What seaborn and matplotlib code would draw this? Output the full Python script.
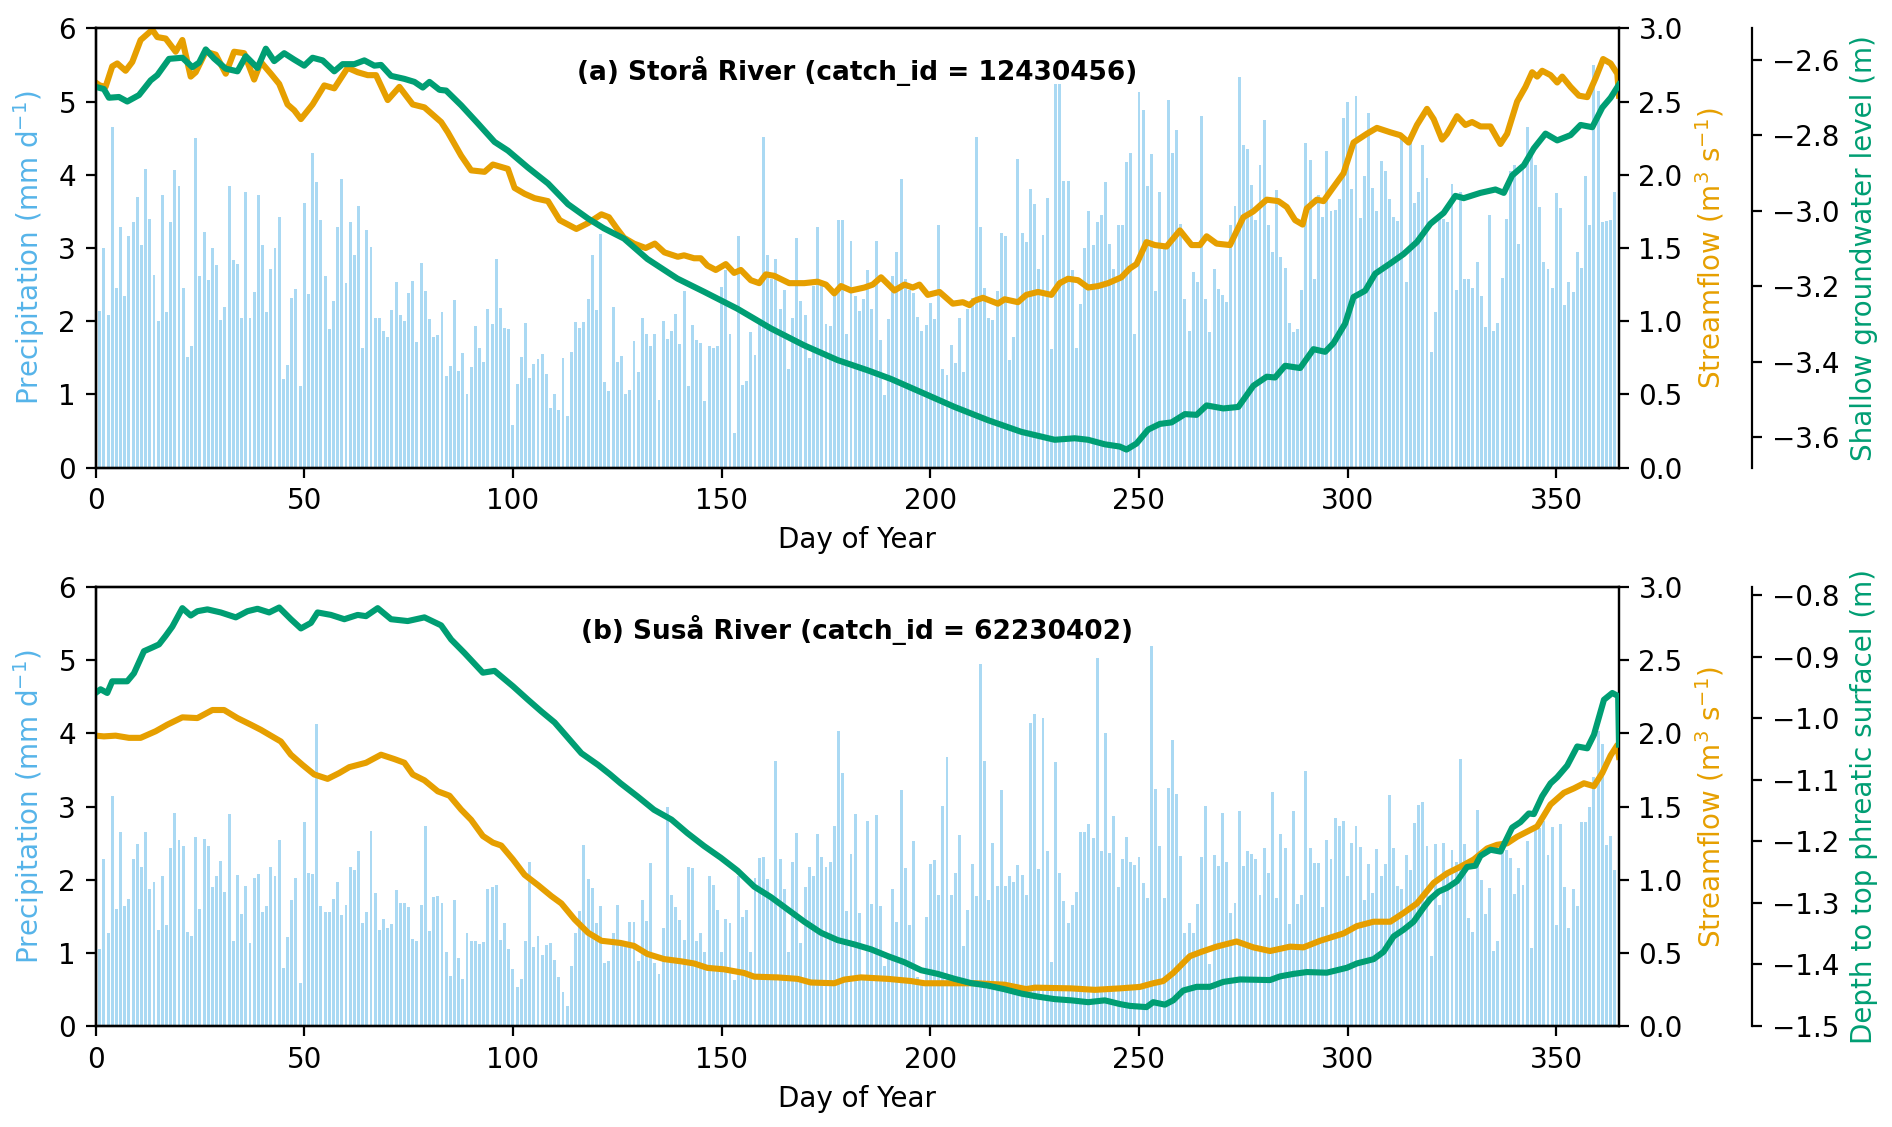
import numpy as np
import pandas as pd
import seaborn as sns
import matplotlib.pyplot as plt
from matplotlib.ticker import MultipleLocator

days = list(range(1, 366))

# daily precipitation, Storå River (mm/d)
stora_precip = [
    2.14, 3.0, 2.08, 4.65, 2.45, 3.28, 2.35, 3.17, 3.35, 3.69,
    3.04, 4.08, 3.39, 2.63, 2.01, 3.72, 2.12, 3.36, 4.07, 3.84,
    2.45, 1.51, 1.66, 4.5, 2.62, 3.22, 2.56, 3.0, 2.77, 2.02,
    2.19, 3.85, 2.84, 2.78, 2.05, 3.77, 2.05, 2.4, 3.72, 3.04,
    2.12, 2.71, 3.0, 3.42, 1.21, 1.4, 2.32, 2.44, 1.11, 3.61,
    2.37, 4.3, 3.9, 3.38, 2.62, 1.9, 2.28, 3.28, 3.94, 2.52,
    3.35, 2.91, 3.58, 1.63, 3.25, 3.02, 2.05, 2.05, 1.87, 1.78,
    2.16, 2.53, 2.09, 2.01, 2.39, 2.55, 1.71, 2.8, 2.41, 2.03,
    1.79, 1.81, 2.13, 1.25, 1.39, 2.29, 1.32, 1.56, 1.0, 1.37,
    1.93, 1.63, 1.44, 2.17, 1.96, 2.85, 2.18, 1.91, 1.89, 0.58,
    1.14, 1.51, 1.98, 1.22, 1.41, 1.49, 1.55, 1.28, 0.81, 1.0,
    0.79, 1.5, 0.7, 1.58, 1.99, 1.91, 1.99, 2.3, 2.9, 2.15,
    3.19, 1.17, 1.05,
    2.2, 1.45, 1.52, 1.0, 1.06, 1.73, 1.3, 2.04, 1.82, 1.66,
    1.82, 0.92, 2.01, 1.76, 1.87, 2.1, 1.69, 2.41, 1.12, 1.95,
    1.74, 1.7, 0.91, 1.66, 1.64, 1.66, 2.47, 2.7, 1.83, 0.48,
    3.17, 1.13, 1.18, 1.85, 1.54, 1.98, 4.51, 2.91, 2.58, 2.85,
    2.17, 2.43, 1.35, 2.05, 3.14, 2.27, 2.09, 1.5, 2.48, 3.28,
    2.5, 1.96, 1.93, 2.41, 3.38, 3.38, 1.83, 3.1, 2.35, 2.14,
    2.31, 2.7, 2.17, 3.1, 1.74, 0.99, 2.03, 2.62, 2.95, 3.94,
    2.58, 2.42, 2.38, 2.06, 1.87, 1.95, 2.25, 2.03, 3.31, 1.35,
    1.26, 1.68, 1.43, 2.05, 1.31, 2.17, 2.32, 4.51, 3.29, 2.45,
    2.05, 2.02, 2.41, 3.2, 3.16, 1.47, 1.78, 4.22, 3.2, 3.08,
    3.8, 3.6, 2.72, 3.18, 3.68, 1.62, 5.24, 5.24, 3.91, 3.91,
    2.7, 1.63, 2.23, 3.0, 3.5, 3.04, 3.35, 3.45, 3.9, 3.06,
    2.72, 3.32,
    3.31, 4.17, 4.3, 1.82, 5.13, 4.89, 3.85, 4.29, 2.41, 3.76,
    3.04, 5.02, 4.3, 4.61, 3.33, 2.31, 1.87, 2.67, 2.54, 4.8,
    2.31, 1.85, 2.72, 2.44, 2.36, 2.26, 3.31, 3.57, 5.33, 4.41,
    4.35, 3.86, 3.38, 4.13, 4.75, 3.32, 2.95, 3.79, 2.88, 2.73,
    1.97, 1.85, 1.9, 2.43, 4.43, 4.2, 2.58, 3.73, 3.42, 4.32,
    3.51, 3.52, 3.67, 4.78, 5.0, 3.8, 5.07, 3.41, 3.98, 4.85,
    3.82, 3.51, 4.19, 4.05, 3.67, 3.43, 3.37, 4.55, 2.54, 4.55,
    3.62, 3.77, 4.4, 3.95, 1.58, 2.13, 3.4, 3.4, 3.36, 3.88,
    2.42, 3.76, 2.57, 2.57, 2.45, 2.81, 2.35, 1.92, 3.45, 1.86,
    1.98, 2.59, 3.39, 4.05, 4.14, 3.06, 4.08, 4.65, 4.35, 4.13,
    3.56, 2.81, 2.71, 2.45, 3.75, 3.54, 2.22, 2.54, 2.4, 2.95,
    2.73, 3.98, 3.31, 5.5, 5.14, 3.35, 3.37, 3.38, 3.76, 2.9,
]

# daily precipitation, Susa River (mm/d)
susa_precip = [
    1.06, 2.28, 1.27, 3.14, 1.6, 2.65, 1.65, 1.74, 2.28, 2.49,
    2.18, 2.65, 1.88, 1.97, 1.32, 2.06, 1.39, 2.43, 2.91, 2.54,
    2.46, 1.29, 1.24, 2.59, 1.6, 2.56, 2.46, 1.91, 2.06, 2.26,
    1.84, 2.9, 1.17, 2.07, 1.53, 1.92, 1.14, 2.02, 2.08, 1.56,
    1.64, 2.18, 2.05, 2.55, 0.8, 1.22, 1.72, 2.02, 0.59, 2.79,
    2.09, 2.08, 4.13, 1.65, 1.56, 1.56, 1.74, 1.97, 1.52, 1.66,
    2.18, 2.14, 2.39, 1.41, 1.56, 2.67, 1.82, 1.32, 1.47, 1.34,
    1.4, 1.86, 1.68, 1.69, 1.63, 1.2, 1.17, 1.66, 2.74, 1.31,
    1.77, 1.78, 1.68, 1.02, 0.69, 1.72, 0.93, 0.65, 1.28, 1.17,
    1.17, 1.13, 1.15, 1.88, 1.9, 1.93, 1.18, 1.41, 1.06, 0.79,
    0.54, 0.65, 1.17, 2.25, 1.08, 1.23, 0.97, 1.11, 1.14, 0.91,
    0.68, 0.47, 0.28, 0.82, 1.27, 1.58, 2.48, 2.01, 1.89, 1.41,
    1.64, 0.86, 0.89,
    1.27, 1.66, 1.1, 1.08, 1.42, 1.42, 0.89, 1.72, 1.44, 2.23,
    0.86, 0.71, 1.34, 2.99, 1.79, 1.63, 1.46, 1.18, 2.18, 2.16,
    1.17, 1.27, 1.01, 2.05, 1.93, 1.59, 1.01, 1.47, 1.41, 0.64,
    2.06, 1.5, 1.59, 1.01, 2.03, 2.3, 2.31, 2.01, 1.74, 3.62,
    2.28, 1.87, 1.01, 2.24, 2.64, 1.14, 1.91, 2.18, 2.05, 2.63,
    2.31, 2.18, 2.25, 2.73, 4.04, 3.46, 1.57, 2.36, 2.9, 1.55,
    0.66, 2.8, 1.67, 2.89, 1.64, 0.82, 0.93, 1.88, 1.43, 3.23,
    2.16, 1.39, 2.53, 0.68, 0.64, 1.49, 2.22, 2.27, 1.8, 3.01,
    3.68, 1.79, 2.09, 2.61, 1.1, 1.59, 2.22, 1.78, 4.95, 3.62,
    1.73, 2.5, 1.92, 3.23, 1.92, 2.06, 1.97, 2.21, 2.07, 1.8,
    4.14, 4.26, 2.15, 4.21, 2.39, 0.88, 3.61, 2.1, 1.71, 1.41,
    1.66, 1.83, 2.66, 2.66, 2.77, 2.57, 5.03, 2.4, 4.0, 2.37,
    2.87, 1.9,
    2.28, 2.59, 2.24, 2.21, 2.32, 1.96, 1.75, 5.2, 3.24, 2.47,
    1.75, 3.25, 3.91, 3.18, 2.33, 1.27, 1.41, 1.27, 1.67, 2.31,
    3.01, 0.85, 2.34, 2.19, 2.91, 2.24, 1.55, 1.68, 2.94, 2.19,
    2.39, 2.36, 2.28, 1.8, 2.44, 2.1, 3.2, 1.76, 2.63, 2.43,
    1.4, 2.94, 1.67, 1.8, 3.49, 2.44, 2.23, 2.23, 1.63, 2.54,
    2.29, 2.84, 2.73, 2.8, 2.05, 2.5, 2.73, 2.45, 1.72, 2.22,
    1.82, 2.42, 2.05, 2.22, 3.16, 2.43, 1.92, 1.87, 2.34, 2.13,
    2.78, 3.03, 3.06, 2.46, 0.96, 2.49, 1.66, 2.5, 2.08, 2.41,
    2.24, 3.65, 2.49, 1.48, 1.29, 2.96, 2.0, 1.53, 1.89, 1.03,
    1.16, 2.51, 2.41, 2.3, 1.81, 2.16, 1.93, 2.53, 1.07, 2.7,
    2.71, 2.8, 2.34, 2.72, 1.39, 2.77, 1.9, 1.35, 1.88, 1.64,
    2.79, 2.79, 3.0, 3.41, 4.04, 3.86, 2.48, 2.6, 2.14, 2.1,
]

# streamflow, Storå River (m3/s)
stora_flow_day = [
    0, 1, 2.4, 4, 5.2, 7.2, 8.8, 10.8, 13.6, 14.8,
    16.8, 19.2, 20.8, 22.8, 24, 26.4, 28.8, 31.2, 33.2, 35.6,
    38, 39.6, 42, 44, 46, 47.6, 49.2, 52, 54.8, 57.2,
    60.4, 62.8, 65.2, 67.2, 70, 72.8, 76, 78.8, 82.8, 84.4,
    87.6, 90, 93.2, 95.2, 98.8, 100.4, 102.8, 105.2, 108.4, 111.2,
    115.2, 118, 121.2, 123, 125, 126.6, 129, 131.8, 134, 136.3,
    139.5, 141, 143.4, 145, 146.6, 148.6, 151, 153, 154.6, 157,
    159, 160.6, 162.6, 166.2, 169.8, 173, 175, 177, 178.6, 181,
    184.2, 186.2, 188.2, 191.4, 193.8, 195.8, 197.4, 199.4, 202.2, 205.4,
    207.8, 209.4, 210.6, 212.6, 216.2, 217.8, 221, 223, 225.8, 229,
    231, 233, 235.4, 237.8, 240.2, 242.6, 245.8, 247.8, 249.4, 251.8,
    253.8, 256.6, 259.8, 262.6, 264.6, 266.2, 268.6, 271.8, 275, 277.4,
    280.6, 283.4, 285.4, 287.4, 289.2, 290.2, 292.6, 294.2, 296.2, 299,
    301.4, 304.6, 307, 310.2, 312.6, 314.6, 316.6, 319, 320.6, 322.6,
    323.8, 326.2, 328.2, 329.8, 331.8, 334.2, 336.6, 338.2, 340.6, 342.6,
    344.2, 345.4, 346.6, 348.6, 350.2, 351.4, 353.4, 355.4, 357.4, 359.4,
    361.2, 363, 364.6, 365,
]
stora_flow = [
    2.63, 2.61, 2.6, 2.74, 2.76, 2.71, 2.77, 2.92, 2.99, 2.94,
    2.93, 2.84, 2.92, 2.67, 2.7, 2.84, 2.82, 2.69, 2.84, 2.83,
    2.65, 2.77, 2.69, 2.62, 2.48, 2.44, 2.38, 2.48, 2.61, 2.59,
    2.73, 2.7, 2.68, 2.68, 2.51, 2.6, 2.48, 2.46, 2.36, 2.29,
    2.13, 2.03, 2.02, 2.07, 2.04, 1.91, 1.87, 1.84, 1.82, 1.69,
    1.63, 1.67, 1.73, 1.71, 1.63, 1.57, 1.53, 1.5, 1.53, 1.47,
    1.44, 1.45, 1.43, 1.43, 1.38, 1.35, 1.39, 1.33, 1.35, 1.28,
    1.26, 1.32, 1.31, 1.26, 1.26, 1.27, 1.25, 1.19, 1.24, 1.21,
    1.23, 1.25, 1.3, 1.21, 1.25, 1.23, 1.25, 1.18, 1.2, 1.12,
    1.13, 1.11, 1.14, 1.16, 1.12, 1.15, 1.13, 1.18, 1.2, 1.18,
    1.26, 1.29, 1.28, 1.23, 1.24, 1.26, 1.3, 1.36, 1.39, 1.54,
    1.52, 1.51, 1.62, 1.52, 1.52, 1.58, 1.53, 1.52, 1.71, 1.75,
    1.83, 1.82, 1.78, 1.69, 1.66, 1.77, 1.83, 1.82, 1.9, 2.01,
    2.22, 2.28, 2.32, 2.29, 2.27, 2.22, 2.34, 2.45, 2.38, 2.24,
    2.28, 2.4, 2.34, 2.36, 2.33, 2.33, 2.21, 2.28, 2.5, 2.6,
    2.7, 2.67, 2.71, 2.68, 2.63, 2.67, 2.6, 2.54, 2.53, 2.66,
    2.79, 2.76, 2.69, 2.54,
]

# shallow groundwater level, Storå River (m)
stora_gw_day = [
    0, 2, 3.2, 5.6, 7.6, 10.4, 13.2, 14.8, 17.6, 20.8,
    23.2, 24.8, 26.4, 28.4, 31.2, 34, 36, 38.8, 40.8, 42.8,
    45.2, 47.6, 50, 52, 54.4, 57.2, 59.2, 62, 64.4, 66.8,
    68.4, 70.8, 74, 76.4, 78.4, 80, 82.4, 84, 87.6, 91.6,
    95.6, 98.8, 103.6, 108.4, 113.2, 118, 121.8, 126.6, 132.2, 139.4,
    145.8, 153.8, 161.8, 169.8, 177.8, 185, 190.6, 197.8, 205.8, 213.8,
    221.8, 229.8, 234.6, 237.8, 241.8, 245.4, 247, 249.4, 252.2, 255,
    257.8, 261, 263.8, 266.2, 270.2, 273.8, 277.4, 280.6, 282.6, 285,
    288.6, 291.8, 294.6, 296.6, 299.4, 301.4, 304.2, 306.6, 310.2, 313.4,
    316.6, 319.8, 323, 325.8, 327.8, 331.8, 335.4, 337.4, 339.4, 342.2,
    344.6, 347.4, 350.2, 353.4, 355.8, 358.6, 361, 363, 365,
]
stora_gw = [
    -2.672, -2.678, -2.701, -2.699, -2.711, -2.694, -2.655, -2.641, -2.598, -2.595,
    -2.620, -2.608, -2.573, -2.597, -2.624, -2.631, -2.591, -2.622, -2.571, -2.604,
    -2.583, -2.600, -2.616, -2.595, -2.602, -2.631, -2.612, -2.612, -2.602, -2.616,
    -2.614, -2.643, -2.651, -2.659, -2.674, -2.659, -2.680, -2.682, -2.721, -2.769,
    -2.818, -2.841, -2.886, -2.928, -2.983, -3.021, -3.047, -3.074, -3.128, -3.180,
    -3.215, -3.260, -3.312, -3.357, -3.396, -3.423, -3.446, -3.481, -3.520, -3.555,
    -3.586, -3.607, -3.603, -3.607, -3.619, -3.625, -3.633, -3.617, -3.580, -3.565,
    -3.561, -3.539, -3.541, -3.516, -3.524, -3.520, -3.464, -3.440, -3.442, -3.411,
    -3.417, -3.367, -3.374, -3.351, -3.299, -3.229, -3.212, -3.167, -3.140, -3.115,
    -3.083, -3.035, -3.006, -2.961, -2.967, -2.953, -2.944, -2.953, -2.907, -2.880,
    -2.835, -2.796, -2.814, -2.800, -2.773, -2.779, -2.727, -2.701, -2.666,
]

# streamflow, Susa River (m3/s)
susa_flow_day = [
    0, 2, 4.8, 8, 10.8, 14.4, 17.2, 20.8, 24.4, 28,
    30.8, 34, 37.2, 39.6, 42, 44.4, 46.8, 49.6, 52.4, 55.6,
    58.4, 60.8, 64.8, 68.4, 71.6, 74, 76, 78.8, 82, 84.8,
    87.6, 90, 92.8, 95.2, 97.2, 100, 102.8, 106, 109.2, 111.6,
    114.8, 118, 121.2, 125.8, 129, 132.2, 136.2, 140.2, 143.4, 146.6,
    150.6, 155.4, 157.8, 163.4, 168.2, 171.4, 177, 179.4, 183.4, 189.8,
    195.4, 198.6, 205.8, 211, 217.8, 223, 225, 233.8, 239.4, 245.4,
    250.2, 253.4, 255.8, 258.2, 262.2, 265, 268.6, 273.4, 277.4, 281.4,
    286.2, 289.4, 293.4, 299, 302.2, 306.2, 310.2, 313.4, 316.6, 320.6,
    323.8, 327, 330.2, 333.4, 335.8, 338.2, 340.6, 345.4, 348.6, 351.8,
    354.2, 356.6, 359, 361, 363, 364.6, 365,
]
susa_flow = [
    1.985, 1.98, 1.985, 1.97, 1.97, 2.015, 2.06, 2.11, 2.105, 2.16,
    2.16, 2.105, 2.06, 2.025, 1.985, 1.945, 1.855, 1.785, 1.72, 1.69,
    1.73, 1.77, 1.8, 1.855, 1.825, 1.8, 1.72, 1.68, 1.605, 1.575,
    1.48, 1.41, 1.3, 1.255, 1.235, 1.14, 1.035, 0.965, 0.89, 0.84,
    0.73, 0.64, 0.585, 0.57, 0.55, 0.495, 0.46, 0.445, 0.43, 0.4,
    0.39, 0.365, 0.34, 0.335, 0.325, 0.3, 0.295, 0.32, 0.335, 0.325,
    0.31, 0.295, 0.295, 0.295, 0.285, 0.255, 0.265, 0.26, 0.25, 0.26,
    0.27, 0.295, 0.31, 0.365, 0.48, 0.51, 0.545, 0.58, 0.54, 0.515,
    0.545, 0.54, 0.585, 0.635, 0.685, 0.715, 0.715, 0.775, 0.84, 0.98,
    1.045, 1.09, 1.14, 1.215, 1.24, 1.25, 1.295, 1.365, 1.515, 1.595,
    1.625, 1.66, 1.64, 1.73, 1.85, 1.92, 1.84,
]

# depth to top phreatic surface, Susa River (m)
susa_gw_day = [
    0, 1.2, 2.8, 4, 6, 7.6, 9.2, 11.6, 13.6, 15.2,
    16.8, 18.4, 20.8, 22.8, 24.4, 26.8, 30, 33.6, 36.4, 38.8,
    41.6, 44, 46.8, 49.2, 51.6, 53.2, 56.4, 59.6, 62.8, 64.8,
    67.6, 70.8, 74.8, 78.8, 82.8, 85.2, 88.4, 92.8, 95.6, 100,
    103.6, 106.8, 110, 113.2, 116.4, 120.4, 123.2, 125.8, 129.8, 133.8,
    138, 141.8, 145.8, 149.8, 153.8, 157.8, 161.8, 165.8, 169.8, 173.8,
    177.8, 181.8, 185.8, 189.8, 193.8, 197.8, 201.8, 205.8, 209.8, 213.8,
    217.8, 221.8, 225.8, 229.8, 233.8, 237.8, 241.8, 245.4, 247.8, 251.8,
    253.4, 256.2, 258.2, 260.6, 263.8, 267, 270.2, 274.2, 281.4, 283.8,
    287, 290.2, 295, 299.8, 302.2, 306.2, 308.6, 311, 313.4, 315.8,
    318.2, 319.8, 321.8, 323.8, 326.2, 328.6, 330.6, 331.8, 334.2, 336.6,
    339.4, 341.4, 343.4, 344.6, 346.6, 348.6, 350.2, 352.6, 355, 357.4,
    359, 361.4, 363.4, 364.8, 365,
]
susa_gw = [
    -0.959, -0.953, -0.959, -0.940, -0.940, -0.940, -0.927, -0.891, -0.885, -0.880,
    -0.866, -0.851, -0.821, -0.833, -0.826, -0.823, -0.828, -0.836, -0.826, -0.822,
    -0.828, -0.820, -0.839, -0.854, -0.845, -0.828, -0.832, -0.839, -0.832, -0.834,
    -0.821, -0.839, -0.842, -0.836, -0.849, -0.872, -0.894, -0.926, -0.923, -0.948,
    -0.970, -0.989, -1.007, -1.032, -1.057, -1.076, -1.091, -1.106, -1.127, -1.149,
    -1.165, -1.187, -1.208, -1.227, -1.248, -1.274, -1.291, -1.311, -1.331, -1.349,
    -1.361, -1.368, -1.376, -1.387, -1.397, -1.410, -1.416, -1.424, -1.431, -1.435,
    -1.441, -1.448, -1.453, -1.457, -1.459, -1.462, -1.459, -1.465, -1.468, -1.470,
    -1.462, -1.466, -1.459, -1.443, -1.437, -1.437, -1.429, -1.425, -1.426, -1.420,
    -1.416, -1.413, -1.414, -1.406, -1.399, -1.392, -1.380, -1.355, -1.344, -1.331,
    -1.308, -1.294, -1.282, -1.276, -1.265, -1.242, -1.240, -1.224, -1.214, -1.217,
    -1.178, -1.169, -1.155, -1.156, -1.127, -1.106, -1.096, -1.077, -1.046, -1.049,
    -1.027, -0.970, -0.959, -0.964, -1.043,
]

BLUE = "#56B4E9"
ORANGE = "#E69F00"
GREEN = "#009E73"
FS = 10
LW = 2.2

plt.rcParams["font.size"] = FS


def draw_panel(ax, precip, flow_day, flow, gw_day, gw, title, gw_label, gw_lim, gw_step):
    sns.barplot(x=days, y=precip, native_scale=True, width=0.7, color=BLUE,
                alpha=0.5, saturation=1, errorbar=None, linewidth=0, ax=ax)
    ax.set_ylim(0, 6)
    ax.set_ylabel(r"Precipitation (mm d$^{-1}$)", color=BLUE, fontsize=FS)
    ax.set_xlabel("Day of Year", fontsize=FS)
    ax.text(0.5, 0.903, title, transform=ax.transAxes, ha="center", va="center",
            fontsize=9.5, fontweight="bold")

    ax2 = ax.twinx()
    sns.lineplot(x=flow_day, y=flow, color=ORANGE, lw=LW, ax=ax2)
    ax2.set_ylim(0, 3)
    ax2.set_ylabel(r"Streamflow (m$^3$ s$^{-1}$)", color=ORANGE, fontsize=FS)

    ax3 = ax.twinx()
    ax3.spines["right"].set_position(("axes", 1.0875))
    sns.lineplot(x=gw_day, y=gw, color=GREEN, lw=LW, ax=ax3)
    ax3.set_ylim(*gw_lim)
    ax3.yaxis.set_major_locator(MultipleLocator(gw_step))
    ax3.set_ylabel(gw_label, color=GREEN, fontsize=FS)

    ax.set_xlim(0, 365)
    ax.set_xticks([0, 50, 100, 150, 200, 250, 300, 350])
    ax.set_xticklabels(["0", "50", "100", "150", "200", "250", "300", "350"])


fig = plt.figure(figsize=(9.46, 5.635), dpi=200)
ax_top = fig.add_axes([0.0505, 0.585, 0.8052, 0.3899])
ax_bot = fig.add_axes([0.0505, 0.0892, 0.8052, 0.39])

draw_panel(ax_top, stora_precip, stora_flow_day, stora_flow, stora_gw_day, stora_gw,
           "(a) Storå River (catch_id = 12430456)",
           "Shallow groundwater level (m)", (-3.681, -2.517), 0.2)
draw_panel(ax_bot, susa_precip, susa_flow_day, susa_flow, susa_gw_day, susa_gw,
           "(b) Suså River (catch_id = 62230402)",
           "Depth to top phreatic surfacel (m)", (-1.5015, -0.7865), 0.1)

fig.savefig("out.png", dpi=200)
